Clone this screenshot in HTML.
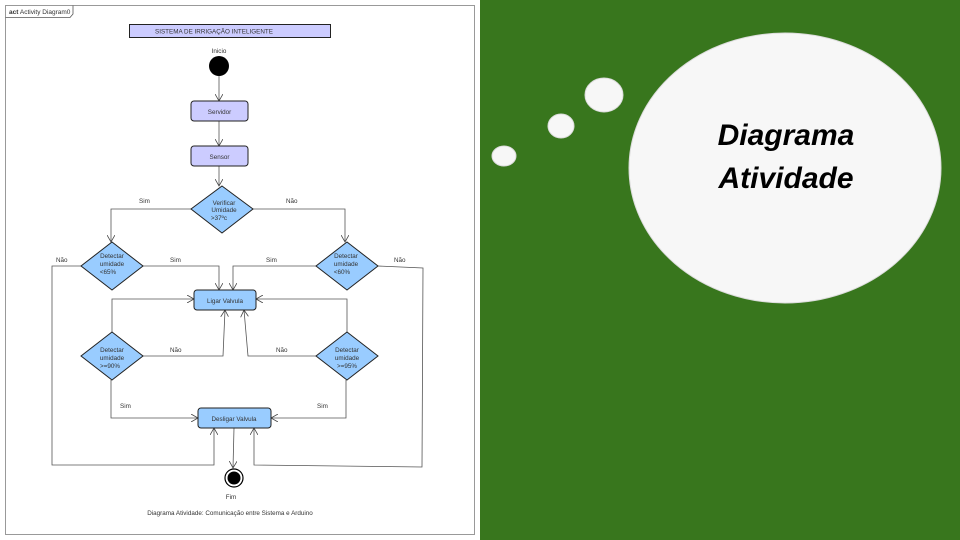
<!DOCTYPE html>
<html><head><meta charset="utf-8"><style>
html,body{margin:0;padding:0;width:960px;height:540px;overflow:hidden;background:#fff}
svg{display:block}
text{font-family:"Liberation Sans",sans-serif;fill:#333}
</style></head><body>
<svg width="960" height="540" viewBox="0 0 960 540" xmlns="http://www.w3.org/2000/svg">
<defs>
<marker id="a" markerWidth="8" markerHeight="8" refX="7" refY="4" orient="auto" markerUnits="userSpaceOnUse">
<path d="M0,0 L7,4 L0,8" fill="none" stroke="#444" stroke-width="0.8"/></marker>
</defs>
<rect x="0" y="0" width="480" height="540" fill="#fff"/>
<rect x="5.5" y="5.5" width="469" height="529" fill="none" stroke="#999" stroke-width="1"/>
<path d="M5.5,17.5 H70 L73,14 V5.5" fill="none" stroke="#555" stroke-width="0.8"/>
<text x="9" y="14" font-size="6.5"><tspan font-weight="bold">act</tspan> Activity Diagram0</text>
<rect x="129.5" y="24.5" width="201" height="13" fill="#ccccff" stroke="#222" stroke-width="1"/>
<text x="155" y="33.5" font-size="6.3">SISTEMA DE IRRIGAÇÃO INTELIGENTE</text>
<text x="219" y="53" font-size="6.3" text-anchor="middle">Inicio</text>
<circle cx="219" cy="66" r="10" fill="#000"/>
<g fill="none" stroke="#555" stroke-width="0.8" marker-end="url(#a)">
<path d="M219,76 V101"/>
<path d="M219,121 V146"/>
<path d="M219,166 V186"/>
<path d="M191,209 H111 V242"/>
<path d="M253,209 H345 V242"/>
<path d="M143,266 H219 V290"/>
<path d="M316,266 H233 V290"/>
<path d="M81,266 H52 V465 H214 V428"/>
<path d="M378,266 L423,268 L422,467 L254,465 V428"/>
<path d="M112,332 V299 H194"/>
<path d="M347,332 V299 H256"/>
<path d="M143,356 H223 L225,310"/>
<path d="M316,356 H248 L244,310"/>
<path d="M111,380 V418 H198"/>
<path d="M346,380 V418 H271"/>
<path d="M234,428 L233,468"/>
</g>
<rect x="191" y="101" width="57" height="20" rx="3" fill="#ccccff" stroke="#222"/>
<text x="219.5" y="114" font-size="6.3" text-anchor="middle">Servidor</text>
<rect x="191" y="146" width="57" height="20" rx="3" fill="#ccccff" stroke="#222"/>
<text x="219.5" y="159" font-size="6.3" text-anchor="middle">Sensor</text>
<g fill="#99ccff" stroke="#222" stroke-width="1">
<path d="M222,186 L253,209 L222,233 L191,209 Z"/>
<path d="M112,242 L143,266 L112,290 L81,266 Z"/>
<path d="M347,242 L378,266 L347,290 L316,266 Z"/>
<path d="M112,332 L143,356 L112,380 L81,356 Z"/>
<path d="M347,332 L378,356 L347,380 L316,356 Z"/>
<rect x="194" y="290" width="62" height="20" rx="3"/>
<rect x="198" y="408" width="73" height="20" rx="3"/>
</g>
<g font-size="6.3" text-anchor="middle">
<text x="224" y="205">Verificar</text><text x="224" y="212">Umidade</text><text x="219" y="220">&gt;37ºc</text>
<text x="112" y="258">Detectar</text><text x="112" y="266">umidade</text><text x="108" y="274">&lt;65%</text>
<text x="346" y="258">Detectar</text><text x="346" y="266">umidade</text><text x="342" y="274">&lt;60%</text>
<text x="112" y="352">Detectar</text><text x="112" y="360">umidade</text><text x="110" y="368">&gt;=90%</text>
<text x="347" y="352">Detectar</text><text x="347" y="360">umidade</text><text x="347" y="368">&gt;=95%</text>
<text x="225" y="303">Ligar Valvula</text>
<text x="234" y="421">Desligar Valvula</text>
<text x="231" y="499">Fim</text>
<text x="230" y="515">Diagrama Atividade: Comunicação entre Sistema e Arduino</text>
</g>
<g font-size="6.3">
<text x="139" y="203">Sim</text><text x="286" y="203">Não</text>
<text x="56" y="262">Não</text><text x="170" y="262">Sim</text>
<text x="266" y="262">Sim</text><text x="394" y="262">Não</text>
<text x="170" y="352">Não</text><text x="276" y="352">Não</text>
<text x="120" y="408">Sim</text><text x="317" y="408">Sim</text>
</g>
<circle cx="234" cy="478" r="9" fill="#fff" stroke="#000" stroke-width="1.2"/>
<circle cx="234" cy="478" r="6.5" fill="#000"/>
<rect x="480" y="0" width="480" height="540" fill="#38761d"/>
<g fill="#f7f7f7" stroke="#ddd" stroke-width="1">
<ellipse cx="785" cy="168" rx="156" ry="135"/>
<ellipse cx="604" cy="95" rx="19" ry="17"/>
<ellipse cx="561" cy="126" rx="13" ry="12"/>
<ellipse cx="504" cy="156" rx="12" ry="10"/>
</g>
<g font-family="'DejaVu Serif',serif" font-style="italic" font-weight="bold" font-size="30" text-anchor="middle">
<text x="786" y="145" style="fill:#000">Diagrama</text>
<text x="786" y="188" style="fill:#000">Atividade</text>
</g>
</svg>
</body></html>
